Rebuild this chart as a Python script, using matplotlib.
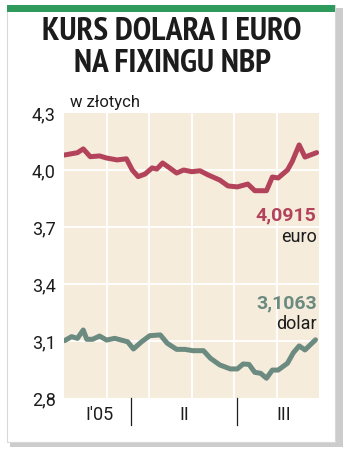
import matplotlib
matplotlib.use("Agg")
import matplotlib.pyplot as plt
from matplotlib.patches import Rectangle
from matplotlib import font_manager
from matplotlib.font_manager import FontProperties

# ---- data (x = day of year 2005) ----
euro_days = [33, 44, 49, 55, 63, 69, 78, 86, 91, 96, 102, 108, 112, 117, 123, 129, 135,
             142, 149, 156, 166, 173, 181, 190, 196, 206, 211, 216, 224, 228, 234, 239, 249]
euro_vals = [4.079, 4.091, 4.111, 4.070, 4.074, 4.063, 4.053, 4.059, 4.000, 3.965, 3.979,
             4.011, 4.005, 4.037, 4.011, 3.984, 4.000, 3.991, 3.996, 3.974, 3.947, 3.916,
             3.911, 3.926, 3.891, 3.891, 3.963, 3.958, 4.000, 4.044, 4.132, 4.068, 4.0915]
usd_days = [33, 39, 44, 49, 52, 57, 63, 69, 76, 87, 92, 99, 106, 115, 121, 129, 136, 143,
            152, 158, 166, 175, 181, 186, 191, 196, 201, 206, 211, 216, 224, 229, 234, 239, 248]
usd_vals = [3.102, 3.123, 3.114, 3.158, 3.109, 3.109, 3.126, 3.105, 3.114, 3.096, 3.058,
            3.096, 3.128, 3.132, 3.088, 3.056, 3.056, 3.049, 3.049, 3.009, 2.974, 2.953,
            2.953, 2.979, 2.977, 2.935, 2.930, 2.904, 2.947, 2.947, 2.983, 3.038, 3.074,
            3.053, 3.1063]
y_ticks = [2.8, 3.1, 3.4, 3.7, 4.0, 4.3]
y_tick_labels = ["2,8", "3,1", "3,4", "3,7", "4,0", "4,3"]
quarter_labels = ["I'05", "II", "III"]
quarter_label_days = [63, 135.5, 221]
quarter_bounds = [90, 181]
x_start, x_end = 32.5, 251
title_lines = ["KURS DOLARA I EURO", "NA FIXINGU NBP"]
unit = "w złotych"
euro_label, euro_name = "4,0915", "euro"
usd_label, usd_name = "3,1063", "dolar"

EURO_C = "#b3435a"
USD_C = "#6b8a80"
BG = "#f6ecdc"
GREEN = "#2e9a5c"
TXT = "#1c1c1c"


def is_bold(f):
    w = f.weight
    if isinstance(w, int):
        return w >= 700
    return "bold" in str(w) or "black" in str(w) or "heavy" in str(w)


def find_font(bold):
    cands = []
    for f in font_manager.fontManager.ttflist:
        if f.style != "normal":
            continue
        nm = f.name.lower()
        st = str(f.stretch)
        score = None
        if "narrow" in nm:
            score = 0
        elif "condensed" in nm or st in ("condensed", "semi-condensed", "extra-condensed",
                                         "ultra-condensed"):
            score = 1
        if score is None:
            continue
        if is_bold(f) != bold:
            continue
        cands.append((score, f.fname))
    cands.sort()
    return cands[0][1] if cands else None


bfile = find_font(True)


def bold_fp(s):
    if bfile:
        return FontProperties(fname=bfile, size=s)
    return FontProperties(family="Roboto", weight="bold", size=s)


def reg_fp(s):
    return FontProperties(family=["Roboto", "DejaVu Sans"], weight="normal", size=s)


W, H = 350, 458
fig = plt.figure(figsize=(W / 100, H / 100), dpi=100)
fig.patch.set_facecolor("white")


def fx(px):
    return px / W


def fy(py):
    return 1 - py / H


# card shadow and card
fig.patches.append(Rectangle((fx(10), fy(447)), fx(333), (447 - 8) / H,
                             transform=fig.transFigure, facecolor="#cccccc",
                             edgecolor="none", zorder=-3))
fig.patches.append(Rectangle((fx(7), fy(442)), fx(328), (442 - 5) / H,
                             transform=fig.transFigure, facecolor="white",
                             edgecolor="#d8d8d8", linewidth=0.8, zorder=-2))
fig.patches.append(Rectangle((fx(7), fy(12)), fx(328), 7 / H,
                             transform=fig.transFigure, facecolor=GREEN,
                             edgecolor="none", zorder=-1))

# title: fit first line to the reference width
t1 = fig.text(fx(172), fy(32), title_lines[0], ha="center", va="center",
              fontproperties=bold_fp(20), color=TXT)
t2 = fig.text(fx(172), fy(64), title_lines[1], ha="center", va="center",
              fontproperties=bold_fp(20), color=TXT)
renderer = fig.canvas.get_renderer()
wpx = t1.get_window_extent(renderer).width
size = max(15, min(24, 20 * 258 / wpx))
t1.set_fontproperties(bold_fp(size))
t2.set_fontproperties(bold_fp(size))

ax = fig.add_axes([fx(64), fy(398), fx(255), 285 / H])
ax.set_zorder(2)
ax.set_facecolor(BG)
ax.set_xlim(x_start, x_end)
ax.set_ylim(y_ticks[0], y_ticks[-1])
for s in ax.spines.values():
    s.set_visible(False)

xr = x_end - x_start
vgrid = [x_start + k * xr / 6 for k in range(1, 6)]
for v in vgrid:
    ax.axvline(v, color="white", lw=1.3, zorder=1)
for t in y_ticks[1:-1]:
    ax.axhline(t, color="white", lw=1.3, zorder=1)

ax.plot(euro_days, euro_vals, color=EURO_C, lw=3.6, solid_joinstyle="round",
        solid_capstyle="round", zorder=3)
ax.plot(usd_days, usd_vals, color=USD_C, lw=3.6, solid_joinstyle="round",
        solid_capstyle="round", zorder=3)

ax.set_yticks(y_ticks)
ax.set_yticklabels(y_tick_labels, color=TXT)
for lab in ax.get_yticklabels():
    lab.set_fontproperties(reg_fp(13))
ax.tick_params(axis="y", length=0, pad=6)
ax.set_xticks([])

ax.text(0.025, 1.012, unit, transform=ax.transAxes, ha="left", va="bottom",
        fontproperties=reg_fp(12), color=TXT)
ax.text(x_end - 2, 3.76, euro_label, ha="right", va="center",
        fontproperties=FontProperties(family=["Roboto", "DejaVu Sans"], weight="bold", size=14),
        color=EURO_C)
ax.text(x_end - 2, 3.65, euro_name, ha="right", va="center",
        fontproperties=reg_fp(13), color=TXT)
ax.text(x_end - 2, 3.30, usd_label, ha="right", va="center",
        fontproperties=FontProperties(family=["Roboto", "DejaVu Sans"], weight="bold", size=14),
        color=USD_C)
ax.text(x_end - 2, 3.19, usd_name, ha="right", va="center",
        fontproperties=reg_fp(13), color=TXT)

# quarter labels and separators below axis
for d, lab in zip(quarter_label_days, quarter_labels):
    ax.text(d, -0.06, lab, transform=ax.get_xaxis_transform(), ha="center",
            va="center", fontproperties=reg_fp(13), color=TXT)
for b in quarter_bounds:
    ax.plot([b, b], [0, -0.095], transform=ax.get_xaxis_transform(), color=TXT,
            lw=0.9, clip_on=False)

fig.savefig("out.png", dpi=100, facecolor="white")
